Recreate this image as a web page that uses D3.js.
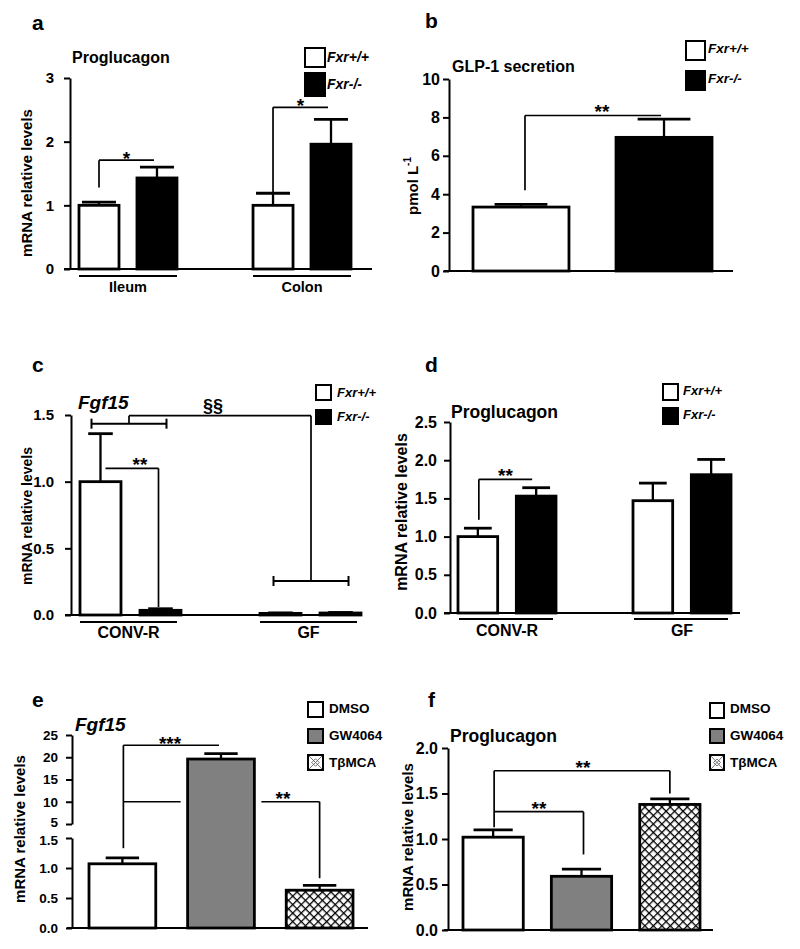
<!DOCTYPE html>
<html><head><meta charset="utf-8">
<script src="https://cdn.jsdelivr.net/npm/d3@7"></script>
<style>
body{margin:0;background:#fff}
svg{display:block}
text{font-family:"Liberation Sans",Arial,Helvetica,sans-serif;font-weight:bold;fill:#000}
</style>
</head><body>
<svg id="fig" width="800" height="949"></svg>
<script>
// ---------------- DATA ----------------
const genotypes = ["Fxr+/+", "Fxr-/-"];
// a
const aGroups = ["Ileum", "Colon"];
const aMeanWT = [1.00, 1.00];
const aMeanKO = [1.43, 1.96];
const aErrWT = [0.05, 0.19];
const aErrKO = [0.17, 0.39];
const aTicks = [0, 1, 2, 3];
// b
const bMean = [3.33, 6.96];
const bErr = [0.14, 0.95];
const bTicks = [0, 2, 4, 6, 8, 10];
// c
const cGroups = ["CONV-R", "GF"];
const cMeanWT = [1.00, 0.012];
const cMeanKO = [0.035, 0.015];
const cErrWT = [0.36, 0.004];
const cErrKO = [0.012, 0.004];
const cTicks = [0, 0.5, 1.0, 1.5];
// d
const dGroups = ["CONV-R", "GF"];
const dMeanWT = [1.00, 1.47];
const dMeanKO = [1.53, 1.81];
const dErrWT = [0.11, 0.23];
const dErrKO = [0.11, 0.20];
const dTicks = [0, 0.5, 1.0, 1.5, 2.0, 2.5];
// e
const treatments = ["DMSO", "GW4064", "TβMCA"];
const eMean = [1.07, 19.6, 0.63];
const eErr = [0.10, 1.2, 0.08];
const eTicksLow = [0, 0.5, 1.0, 1.5];
const eTicksHigh = [5, 10, 15, 20, 25];
// f
const fMean = [1.02, 0.59, 1.38];
const fErr = [0.08, 0.08, 0.06];
const fTicks = [0, 0.5, 1.0, 1.5, 2.0];

// ---------------- HELPERS ----------------
const svg = d3.select("#fig");
const defs = svg.append("defs");
const hatch = defs.append("pattern").attr("id", "hatch").attr("patternUnits", "userSpaceOnUse")
  .attr("width", 6).attr("height", 6).attr("patternTransform", "rotate(45)");
hatch.append("rect").attr("width", 6).attr("height", 6).attr("fill", "#fff");
hatch.append("line").attr("x1", 0).attr("y1", 0).attr("x2", 6).attr("y2", 0).attr("stroke", "#000").attr("stroke-width", 2.6);
hatch.append("line").attr("x1", 0).attr("y1", 0).attr("x2", 0).attr("y2", 6).attr("stroke", "#000").attr("stroke-width", 2.6);

const STAR = 19;
function line(g, x1, y1, x2, y2, w) {
  return g.append("line").attr("x1", x1).attr("y1", y1).attr("x2", x2).attr("y2", y2)
    .attr("stroke", "#000").attr("stroke-width", w || 1.7);
}
function txt(g, x, y, s, size, anchor, italic) {
  return g.append("text").attr("x", x).attr("y", y).attr("font-size", size)
    .attr("text-anchor", anchor || "start").attr("font-style", italic ? "italic" : "normal").text(s);
}
function yAxis(g, scale, ticks, fmt, x, tsize, pad, fs) {
  const ax = d3.axisLeft(scale).tickValues(ticks).tickFormat(d3.format(fmt))
    .tickSize(tsize).tickSizeOuter(0).tickPadding(pad);
  const a = g.append("g").attr("transform", `translate(${x},0)`).call(ax);
  a.select(".domain").attr("stroke", "#000").attr("stroke-width", 2);
  a.selectAll(".tick line").attr("stroke", "#000").attr("stroke-width", 2);
  a.selectAll(".tick text").attr("font-size", fs).attr("fill", "#000")
    .attr("font-family", '"Liberation Sans",Arial,sans-serif').attr("font-weight", "bold");
  a.attr("font-family", null).attr("font-size", null);
  return a;
}
function yLabel(g, cx, cy, s, fs) {
  return g.append("text").attr("transform", `translate(${cx},${cy}) rotate(-90)`)
    .attr("text-anchor", "middle").attr("dominant-baseline", "middle")
    .attr("font-size", fs || 13).attr("fill", "#111").text(s);
}
function legendBox(g, x, y, w, h, fill, cross) {
  g.append("rect").attr("x", x).attr("y", y).attr("width", w).attr("height", h)
    .attr("fill", fill).attr("stroke", "#000").attr("stroke-width", 2);
  if (cross) {
    line(g, x + 1, y + 1, x + w - 1, y + h - 1, 0.9).attr("stroke", "#666");
    line(g, x + w - 1, y + 1, x + 1, y + h - 1, 0.9).attr("stroke", "#666");
    const cx = x + w / 2, cy = y + h / 2, r = w / 4;
    g.append("path").attr("d", `M${cx - r},${cy}L${cx},${cy - r}L${cx + r},${cy}L${cx},${cy + r}Z`)
      .attr("fill", "none").attr("stroke", "#666").attr("stroke-width", 0.9);
  }
}
function legend(g, x, ys, hs, w, labels, fills, tx, tys, fs, italic) {
  labels.forEach((l, i) => {
    legendBox(g, x, ys[i], w, hs[i], fills[i] === "hatch" ? "#fff" : fills[i], fills[i] === "hatch");
    txt(g, tx, tys[i], l, fs, "start", italic);
  });
}
function bars(g, rows, xf, wf, y, fillf, capFrac) {
  g.selectAll(null).data(rows).join("rect")
    .attr("x", d => xf(d)).attr("width", d => wf(d))
    .attr("y", d => y(d.mean)).attr("height", d => y(0) - y(d.mean))
    .attr("fill", d => fillf(d)).attr("stroke", "#000").attr("stroke-width", 2.8);
  g.selectAll(null).data(rows).join("line")
    .attr("x1", d => xf(d) + wf(d) / 2).attr("x2", d => xf(d) + wf(d) / 2)
    .attr("y1", d => y(d.mean)).attr("y2", d => y(d.mean + d.err))
    .attr("stroke", "#000").attr("stroke-width", 2.3);
  g.selectAll(null).data(rows).join("line")
    .attr("x1", d => xf(d) + wf(d) * (1 - capFrac) / 2).attr("x2", d => xf(d) + wf(d) * (1 + capFrac) / 2)
    .attr("y1", d => y(d.mean + d.err)).attr("y2", d => y(d.mean + d.err))
    .attr("stroke", "#000").attr("stroke-width", 2.8);
}
function groupedRows(groups, mWT, mKO, eWT, eKO) {
  return groups.flatMap((grp, i) => genotypes.map((gt, j) => ({
    grp, gt, mean: j ? mKO[i] : mWT[i], err: j ? eKO[i] : eWT[i]
  })));
}
const gFill = d => d.gt === genotypes[0] ? "#fff" : "#000";

// ---------------- PANEL a ----------------
{
  const g = svg.append("g");
  const y = d3.scaleLinear().domain([0, 3]).range([269, 78]);
  const x0 = d3.scaleBand().domain(aGroups).range([79, 351]).paddingInner(0.437);
  const x1 = d3.scaleBand().domain(genotypes).range([0, x0.bandwidth()]).paddingInner(0.31);
  const rows = groupedRows(aGroups, aMeanWT, aMeanKO, aErrWT, aErrKO);
  bars(g, rows, d => x0(d.grp) + x1(d.gt), () => x1.bandwidth(), y, gFill, 0.85);
  yAxis(g, y, aTicks, "d", 70, 6, 10, 15);
  line(g, 64, y(0), 372, y(0), 2);
  aGroups.forEach(grp => {
    line(g, x0(grp), y(0) + 7, x0(grp) + x0.bandwidth(), y(0) + 7, 2);
    txt(g, x0(grp) + x0.bandwidth() / 2, y(0) + 23, grp, 14.5, "middle");
  });
  const cx = (grp, gt) => x0(grp) + x1(gt) + x1.bandwidth() / 2;
  const aSig = [{ grp: "Ileum", from: 1.28, top: 1.71, label: "*" }, { grp: "Colon", from: 1.21, top: 2.54, label: "*" }];
  aSig.forEach(s => {
    const xl = cx(s.grp, genotypes[0]), xr = cx(s.grp, genotypes[1]) - 3;
    line(g, xl, y(s.from), xl, y(s.top));
    line(g, xl, y(s.top), xr, y(s.top));
    txt(g, (xl + xr) / 2, y(s.top) + 5, s.label, STAR, "middle");
  });
  txt(g, 32, 30, "a", 21);
  txt(g, 72, 63, "Proglucagon", 16);
  yLabel(g, 28, 183, "mRNA relative levels", 15);
  legend(g, 305, [48, 73], [19, 23], 20, genotypes, ["#fff", "#000"], 327, [62, 89], 14, true);
}

// ---------------- PANEL b ----------------
{
  const g = svg.append("g");
  const y = d3.scaleLinear().domain([0, 10]).range([271, 79]);
  const x = d3.scaleBand().domain(genotypes).range([473, 712]).paddingInner(0.329);
  const rows = genotypes.map((gt, i) => ({ gt, mean: bMean[i], err: bErr[i] }));
  bars(g, rows, d => x(d.gt), () => x.bandwidth(), y, gFill, 0.55);
  yAxis(g, y, bTicks, "d", 449, 6, 3, 16);
  line(g, 444, y(0), 733, y(0), 2);
  const xl = x(genotypes[0]) + x.bandwidth() / 2 + 4, xr = x(genotypes[1]) + x.bandwidth() / 2 - 3;
  line(g, xl, y(4.2), xl, y(8.1));
  line(g, xl, y(8.1), xr, y(8.1));
  txt(g, 602, y(8.1) + 3, "**", STAR, "middle");
  txt(g, 425, 28, "b", 21);
  txt(g, 452, 72, "GLP-1 secretion", 16);
  const yl = g.append("text").attr("transform", "translate(413,186) rotate(-90)")
    .attr("text-anchor", "middle").attr("font-size", 15).attr("fill", "#111");
  yl.append("tspan").attr("dy", 5).text("pmol L");
  yl.append("tspan").attr("font-size", 10).attr("dy", -7).text("-1");
  legend(g, 686, [41, 71], [19, 19], 19, genotypes, ["#fff", "#000"], 708, [53, 83], 13.5, true);
}

// ---------------- PANEL c ----------------
{
  const g = svg.append("g");
  const y = d3.scaleLinear().domain([0, 1.5]).range([615, 415]);
  const x0 = d3.scaleBand().domain(cGroups).range([80, 361]).paddingInner(0.439);
  const x1 = d3.scaleBand().domain(genotypes).range([0, x0.bandwidth()]).paddingInner(0.317);
  const rows = groupedRows(cGroups, cMeanWT, cMeanKO, cErrWT, cErrKO);
  bars(g, rows, d => x0(d.grp) + x1(d.gt), () => x1.bandwidth(), y, gFill, 0.6);
  yAxis(g, y, cTicks, ".1f", 71, 6, 11, 15);
  line(g, 65, y(0), 362, y(0), 2);
  cGroups.forEach(grp => {
    line(g, x0(grp), y(0) + 7, x0(grp) + x0.bandwidth() - 4, y(0) + 7, 2);
    txt(g, x0(grp) + x0.bandwidth() / 2 - 2, y(0) + 23, grp, 16, "middle");
  });
  const cx = (grp, gt) => x0(grp) + x1(gt) + x1.bandwidth() / 2;
  const l1 = cx("CONV-R", genotypes[0]) + 5, r1 = cx("CONV-R", genotypes[1]) - 2;
  line(g, l1, y(1.10), r1, y(1.10));
  line(g, r1, y(1.10), r1, y(0.06));
  txt(g, (l1 + r1) / 2 + 8, y(1.10) + 3, "**", STAR, "middle");
  const bl = cx("CONV-R", genotypes[0]) - 9, br = cx("CONV-R", genotypes[1]) + 6;
  const gl = cx("GF", genotypes[0]) - 7, gr = cx("GF", genotypes[1]) + 8;
  const yb1 = y(1.435), yb2 = y(0.255), ytop = y(1.495);
  [[bl, br, yb1], [gl, gr, yb2]].forEach(([a, b, yy]) => {
    line(g, a, yy, b, yy, 2);
    line(g, a, yy - 5, a, yy + 5, 2);
    line(g, b, yy - 5, b, yy + 5, 2);
  });
  const mid1 = (bl + br) / 2, mid2 = (gl + gr) / 2;
  line(g, mid1, yb1, mid1, ytop);
  line(g, mid1, ytop, mid2, ytop);
  line(g, mid2, ytop, mid2, yb2);
  txt(g, 213, 412, "§§", 18, "middle");
  txt(g, 32, 372, "c", 21);
  txt(g, 78, 409, "Fgf15", 19, "start", true);
  yLabel(g, 28, 516, "mRNA relative levels", 14);
  legend(g, 316, [385, 410], [15, 14], 15, genotypes, ["#fff", "#000"], 337, [397, 421], 13, true);
}

// ---------------- PANEL d ----------------
{
  const g = svg.append("g");
  const y = d3.scaleLinear().domain([0, 2.5]).range([613, 422]);
  const x0 = d3.scaleBand().domain(dGroups).range([458, 731]).paddingInner(0.44);
  const x1 = d3.scaleBand().domain(genotypes).range([0, x0.bandwidth()]).paddingInner(0.32);
  const rows = groupedRows(dGroups, dMeanWT, dMeanKO, dErrWT, dErrKO);
  bars(g, rows, d => x0(d.grp) + x1(d.gt), () => x1.bandwidth(), y, gFill, 0.7);
  yAxis(g, y, dTicks, ".1f", 450, 6, 7, 16);
  line(g, 444, y(0), 740, y(0), 2);
  dGroups.forEach(grp => {
    line(g, x0(grp) + 1, y(0) + 6, x0(grp) + x0.bandwidth() - 3, y(0) + 6, 2);
    txt(g, x0(grp) + x0.bandwidth() / 2, y(0) + 23, grp, 16, "middle");
  });
  const cx = (grp, gt) => x0(grp) + x1(gt) + x1.bandwidth() / 2;
  const xl = cx("CONV-R", genotypes[0]) + 1, xr = cx("CONV-R", genotypes[1]) - 4;
  line(g, xl, y(1.22), xl, y(1.75));
  line(g, xl, y(1.75), xr, y(1.75));
  txt(g, (xl + xr) / 2, y(1.75) + 3, "**", STAR, "middle");
  txt(g, 425, 372, "d", 21);
  txt(g, 451, 418, "Proglucagon", 17.5);
  yLabel(g, 403, 512, "mRNA relative levels", 16);
  legend(g, 663, [384, 408], [16, 16], 15, genotypes, ["#fff", "#000"], 683, [395, 419], 13, true);
}

// ---------------- PANEL e (broken axis) ----------------
{
  const g = svg.append("g");
  const yLow = d3.scaleLinear().domain([0, 1.5]).range([928, 838]);
  const yHigh = d3.scaleLinear().domain([5, 25]).range([824, 735]);
  const y = v => v <= 1.5 ? yLow(v) : yHigh(v);
  const x = d3.scaleBand().domain(treatments).range([89, 353]).paddingInner(0.323);
  const fills = ["#fff", "#808080", "url(#hatch)"];
  const rows = treatments.map((t, i) => ({ t, i, mean: eMean[i], err: eErr[i] }));
  g.selectAll(null).data(rows).join("rect")
    .attr("x", d => x(d.t)).attr("width", x.bandwidth())
    .attr("y", d => y(d.mean)).attr("height", d => yLow(0) - y(d.mean))
    .attr("fill", d => fills[d.i]).attr("stroke", "#000").attr("stroke-width", 2.8);
  g.selectAll(null).data(rows).join("line")
    .attr("x1", d => x(d.t) + x.bandwidth() / 2).attr("x2", d => x(d.t) + x.bandwidth() / 2)
    .attr("y1", d => y(d.mean)).attr("y2", d => y(d.mean + d.err))
    .attr("stroke", "#000").attr("stroke-width", 2.3);
  g.selectAll(null).data(rows).join("line")
    .attr("x1", d => x(d.t) + x.bandwidth() * 0.25).attr("x2", d => x(d.t) + x.bandwidth() * 0.75)
    .attr("y1", d => y(d.mean + d.err)).attr("y2", d => y(d.mean + d.err))
    .attr("stroke", "#000").attr("stroke-width", 2.8);
  const axLow = yAxis(g, yLow, eTicksLow, ".1f", 72, 6, 8, 13.5);
  const axHigh = yAxis(g, yHigh, eTicksHigh, "d", 72, 6, 8, 13.5);
  // nudge the labels that sit either side of the break so they do not collide
  axLow.selectAll(".tick text").filter(d => d === 1.5).attr("dy", "0.45em");
  axHigh.selectAll(".tick text").filter(d => d === 5).attr("dy", "0.2em");
  line(g, 67, yLow(0), 368, yLow(0), 2);
  const cx = t => x(t) + x.bandwidth() / 2;
  const xd = cx("DMSO") + 1, xg = cx("GW4064") - 2, xt = cx("TβMCA");
  line(g, xd, yLow(1.33), xd, yHigh(22.7));
  line(g, xd, yHigh(22.7), xg, yHigh(22.7));
  txt(g, 170, yHigh(22.7) + 5, "***", STAR, "middle");
  line(g, xd, yHigh(10), x("GW4064") - 7, yHigh(10));
  line(g, x("GW4064") + x.bandwidth() + 7, yHigh(10), xt, yHigh(10));
  line(g, xt, yHigh(10), xt, yLow(0.83));
  txt(g, 283, yHigh(10) + 3, "**", STAR, "middle");
  txt(g, 32, 707, "e", 21);
  txt(g, 75, 731, "Fgf15", 19, "start", true);
  yLabel(g, 21, 829, "mRNA relative levels", 15);
  legend(g, 308, [702, 729, 755], [15, 14, 15], 15, treatments, ["#fff", "#808080", "hatch"], 329, [713, 740, 767], 13.5, false);
}

// ---------------- PANEL f ----------------
{
  const g = svg.append("g");
  const y = d3.scaleLinear().domain([0, 2]).range([930, 748]);
  const x = d3.scaleBand().domain(treatments).range([463, 700]).paddingInner(0.318);
  const fills = ["#fff", "#808080", "url(#hatch)"];
  const rows = treatments.map((t, i) => ({ t, i, mean: fMean[i], err: fErr[i] }));
  bars(g, rows, d => x(d.t), () => x.bandwidth(), y, d => fills[d.i], 0.65);
  yAxis(g, y, fTicks, ".1f", 448, 6, 4, 16);
  line(g, 444, y(0), 713, y(0), 2);
  const cx = t => x(t) + x.bandwidth() / 2;
  const xd = cx("DMSO") + 1, xg = cx("GW4064") + 2, xt = cx("TβMCA");
  line(g, xd, y(1.13), xd, y(1.75));
  line(g, xd, y(1.75), xt, y(1.75));
  line(g, xt, y(1.75), xt, y(1.5));
  txt(g, 583, y(1.75) + 3, "**", STAR, "middle");
  line(g, xd, y(1.30), xg, y(1.30));
  line(g, xg, y(1.30), xg, y(0.83));
  txt(g, 539, y(1.30) + 3, "**", STAR, "middle");
  txt(g, 428, 707, "f", 21);
  txt(g, 450, 742, "Proglucagon", 17.5);
  yLabel(g, 409, 837, "mRNA relative levels", 15);
  legend(g, 710, [703, 729, 755], [15, 14, 15], 14, treatments, ["#fff", "#808080", "hatch"], 730, [713, 740, 767], 13.5, false);
}
</script>
</body></html>
